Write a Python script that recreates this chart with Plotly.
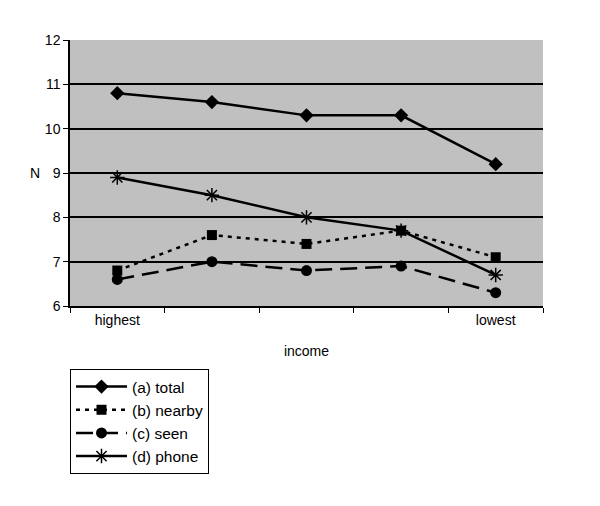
import plotly.graph_objects as go

categories = ["highest", "q2", "q3", "q4", "lowest"]
tick_labels = ["highest", "", "", "", "lowest"]
y_ticks = [6, 7, 8, 9, 10, 11, 12]
grid_values = [7, 8, 9, 10, 11]
total = [10.8, 10.6, 10.3, 10.3, 9.2]
nearby = [6.8, 7.6, 7.4, 7.7, 7.1]
seen = [6.6, 7.0, 6.8, 6.9, 6.3]
phone = [8.9, 8.5, 8.0, 7.7, 6.7]

fig = go.Figure()
fig.add_trace(go.Scatter(x=categories, y=total, name="(a) total", mode="lines+markers",
                         legendgroup="a",
                         line=dict(color="black", width=2.5),
                         marker=dict(symbol="diamond", size=11, color="black")))
fig.add_trace(go.Scatter(x=categories, y=nearby, name="(b) nearby", mode="lines+markers",
                         legendgroup="b",
                         line=dict(color="black", width=2.5, dash="4px,5px"),
                         marker=dict(symbol="square", size=10, color="black")))
fig.add_trace(go.Scatter(x=categories, y=seen, name="(c) seen", mode="lines+markers",
                         legendgroup="c",
                         line=dict(color="black", width=2.5, dash="17px,8px"),
                         marker=dict(symbol="circle", size=11, color="black")))
fig.add_trace(go.Scatter(x=categories, y=phone, name="(d) phone", mode="lines+markers",
                         legendgroup="d",
                         line=dict(color="black", width=2.5),
                         marker=dict(symbol="asterisk-open", size=12, color="black",
                                     line=dict(color="black", width=1.5))))
# invisible helper on yaxis2 to carry the inner grid lines
fig.add_trace(go.Scatter(x=categories, y=total, yaxis="y2", mode="lines",
                         line=dict(width=0), showlegend=False, hoverinfo="skip",
                         opacity=0))

fig.update_layout(
    width=600, height=506,
    paper_bgcolor="white", plot_bgcolor="#c0c0c0",
    margin=dict(l=62, r=65, t=32, b=208),
    font=dict(family="Liberation Sans, Arial, sans-serif", size=14, color="black"),
    showlegend=True,
    legend=dict(x=0, y=-0.237, xanchor="left", yanchor="top",
                bgcolor="white", bordercolor="black", borderwidth=1,
                font=dict(size=15.5), itemwidth=51, tracegroupgap=0),
    xaxis=dict(type="category", categoryorder="array", categoryarray=categories,
               tickvals=categories, ticktext=tick_labels, tickson="boundaries",
               range=[-0.5, 4.5], showline=True, linecolor="black", linewidth=1.5,
               ticks="outside", ticklen=5, tickcolor="black", showgrid=False,
               tickfont=dict(size=14),
               title=dict(text="income", standoff=20, font=dict(size=14)), zeroline=False),
    yaxis=dict(range=[6, 12], tickvals=y_ticks, showline=True, linecolor="black", linewidth=1.5,
               ticks="outside", ticklen=5, tickcolor="black", showgrid=False,
               tickfont=dict(size=14), zeroline=False),
    yaxis2=dict(overlaying="y", matches="y", tickvals=grid_values, showgrid=True,
                gridcolor="black", gridwidth=1.5, showticklabels=False, ticks="",
                showline=False, zeroline=False, side="left", layer="below traces"),
    annotations=[dict(text="N", xref="paper", yref="y", x=-0.06, y=9, showarrow=False,
                      xanchor="right", font=dict(size=14))],
)

fig.write_html("out.html")
